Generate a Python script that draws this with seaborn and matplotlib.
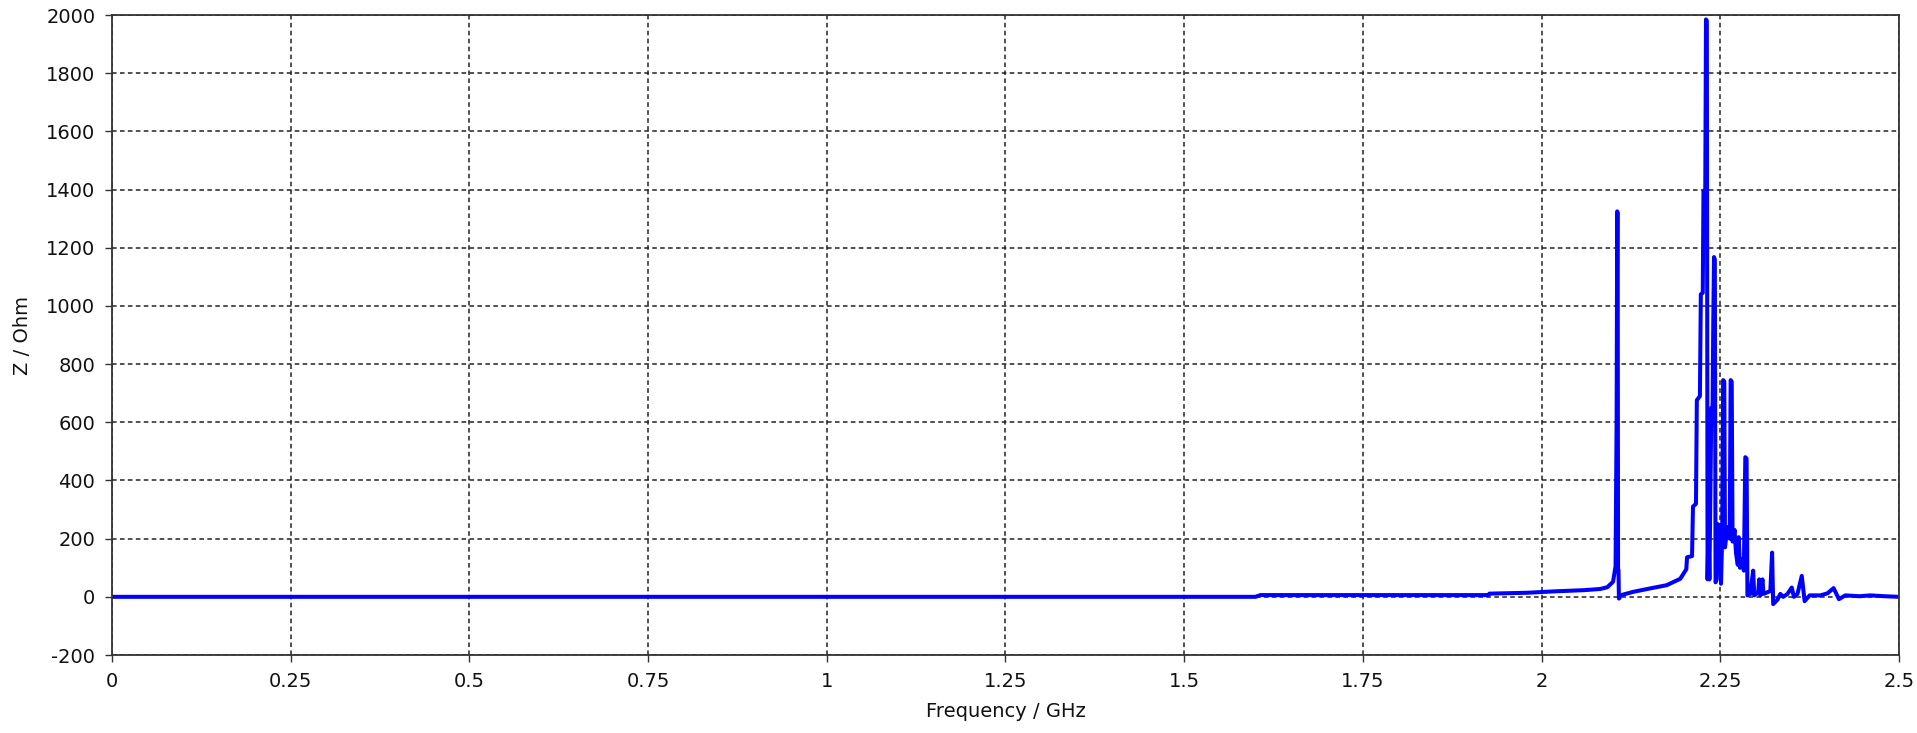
import matplotlib
matplotlib.use("Agg")
import matplotlib.pyplot as plt
import seaborn as sns
import pandas as pd

# Impedance magnitude vs. frequency (GHz, Ohm)
freq_ghz = [
    0.000, 1.600, 1.603, 1.607, 1.925, 1.927, 1.980, 2.020, 2.060, 2.082,
    2.092, 2.100, 2.1035, 2.1050, 2.1058, 2.1064, 2.1070, 2.1076, 2.1082, 2.1090,
    2.1100, 2.128, 2.152, 2.175, 2.194, 2.2025, 2.2035, 2.2105, 2.2118, 2.2160,
    2.2172, 2.2215, 2.2228, 2.2255, 2.2265, 2.2290, 2.2300, 2.2312, 2.2322, 2.2335,
    2.2348, 2.2375, 2.2392, 2.2402, 2.2412, 2.2424, 2.2434, 2.2450, 2.2460, 2.2498,
    2.2510, 2.2526, 2.2540, 2.2556, 2.2566, 2.2600, 2.2632, 2.2645, 2.2660, 2.2672,
    2.2700, 2.2720, 2.2745, 2.2758, 2.2775, 2.2800, 2.2830, 2.2850, 2.2868, 2.2880,
    2.2920, 2.2960, 2.2975, 2.3030, 2.3045, 2.3060, 2.3090, 2.3105, 2.3200, 2.3225,
    2.3240, 2.3300, 2.3340, 2.3380, 2.3440, 2.3500, 2.3530, 2.3580, 2.3640, 2.3680,
    2.3750, 2.3900, 2.4000, 2.4085, 2.4160, 2.4250, 2.4450, 2.4600, 2.4800, 2.5000,
]
z_ohm = [
    0, 0, 3, 6, 6, 11, 14, 19, 23, 27,
    33, 52, 105, 620, 1325, 1320, 95, 92, -6, -4,
    5, 17, 29, 40, 62, 95, 136, 140, 310, 320,
    676, 690, 1040, 1045, 1395, 1400, 1985, 1980, 60, 240,
    60, 650, 640, 945, 1168, 1160, 50, 60, 250, 245,
    45, 200, 745, 740, 170, 240, 200, 745, 740, 190,
    230, 150, 110, 205, 100, 130, 90, 480, 475, 5,
    10, 90, 5, 15, 60, 5, 60, 10, 20, 152,
    -25, -10, 10, 0, 10, 32, 0, 10, 72, -15,
    5, 5, 12, 30, -8, 5, 2, 5, 2, 0,
]

x_ticks = [0, 0.25, 0.5, 0.75, 1, 1.25, 1.5, 1.75, 2, 2.25, 2.5]
x_tick_labels = ["0", "0.25", "0.5", "0.75", "1", "1.25", "1.5", "1.75", "2", "2.25", "2.5"]
y_ticks = [-200, 0, 200, 400, 600, 800, 1000, 1200, 1400, 1600, 1800, 2000]

sns.set_style("white")
plt.rcParams["font.family"] = ["DejaVu Sans"]

df = pd.DataFrame({"Frequency / GHz": freq_ghz, "Z / Ohm": z_ohm})

fig = plt.figure(figsize=(19.17, 7.33), dpi=100)
ax = fig.add_axes([0.0584, 0.1064, 0.9322, 0.8731])

sns.lineplot(data=df, x="Frequency / GHz", y="Z / Ohm", ax=ax,
             color="#0000ff", linewidth=2.9, estimator=None, sort=False)

ax.set_xlim(0, 2.5)
ax.set_ylim(-200, 2000)
ax.set_xticks(x_ticks)
ax.set_xticklabels(x_tick_labels)
ax.set_yticks(y_ticks)
ax.set_yticklabels([str(v) for v in y_ticks])

ax.grid(True, color="#222222", linestyle=(0, (3.0, 2.2)), linewidth=1.1)
ax.set_axisbelow(True)

for side in ax.spines.values():
    side.set_visible(True)
    side.set_color("#333333")
    side.set_linewidth(1.3)

ax.tick_params(axis="both", direction="out", length=5, width=1.0,
               color="#333333", labelsize=14, labelcolor="#111111",
               bottom=True, left=True, pad=7)
ax.set_xlabel("Frequency / GHz", fontsize=14, color="#111111", labelpad=8)
ax.set_ylabel("Z / Ohm", fontsize=14, color="#111111", labelpad=10)

fig.savefig("out.png", dpi=100)
